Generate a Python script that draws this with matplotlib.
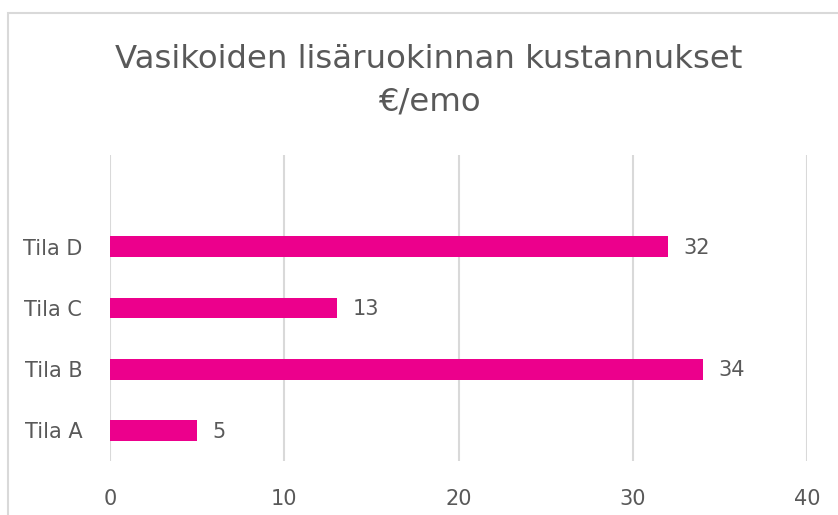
import matplotlib.pyplot as plt
from matplotlib.patches import Rectangle

# Data
farms = ["Tila A", "Tila B", "Tila C", "Tila D"]
costs = [5, 34, 13, 32]
x_ticks = [0, 10, 20, 30, 40]

title = "Vasikoiden lisäruokinnan kustannukset\n€/emo"
bar_color = "#EC008C"
text_color = "#595959"
grid_color = "#D9D9D9"

fig = plt.figure(figsize=(8.38, 5.15), dpi=100)
ax = fig.add_axes([0.1313, 0.1049, 0.8318, 0.5941])

# chart border (Excel style)
fig.patches.append(Rectangle((8 / 838, -0.1), 1.2, 1 - 13 / 515 + 0.1,
                             transform=fig.transFigure, fill=False,
                             edgecolor=grid_color, linewidth=1.5))

y = range(len(farms))
ax.barh(y, costs, height=0.34, color=bar_color, zorder=3)
for i, v in zip(y, costs):
    ax.text(v + 0.9, i - 0.02, str(v), va="center", ha="left", fontsize=15, color=text_color)

ax.set_xlim(0, 40)
ax.set_ylim(-0.5, 4.5)
ax.set_xticks(x_ticks)
ax.set_yticks(list(y))
ax.set_yticklabels(farms)
ax.tick_params(axis="both", length=0, labelsize=15, labelcolor=text_color)
ax.tick_params(axis="x", pad=20)
ax.tick_params(axis="y", pad=20)
ax.grid(axis="x", color=grid_color, linewidth=1.5, zorder=0)
for s in ax.spines.values():
    s.set_visible(False)

fig.text(0.512, 0.843, title, ha="center", va="center", fontsize=23.3,
         color=text_color, linespacing=1.45)

plt.savefig("out.png", dpi=100)
